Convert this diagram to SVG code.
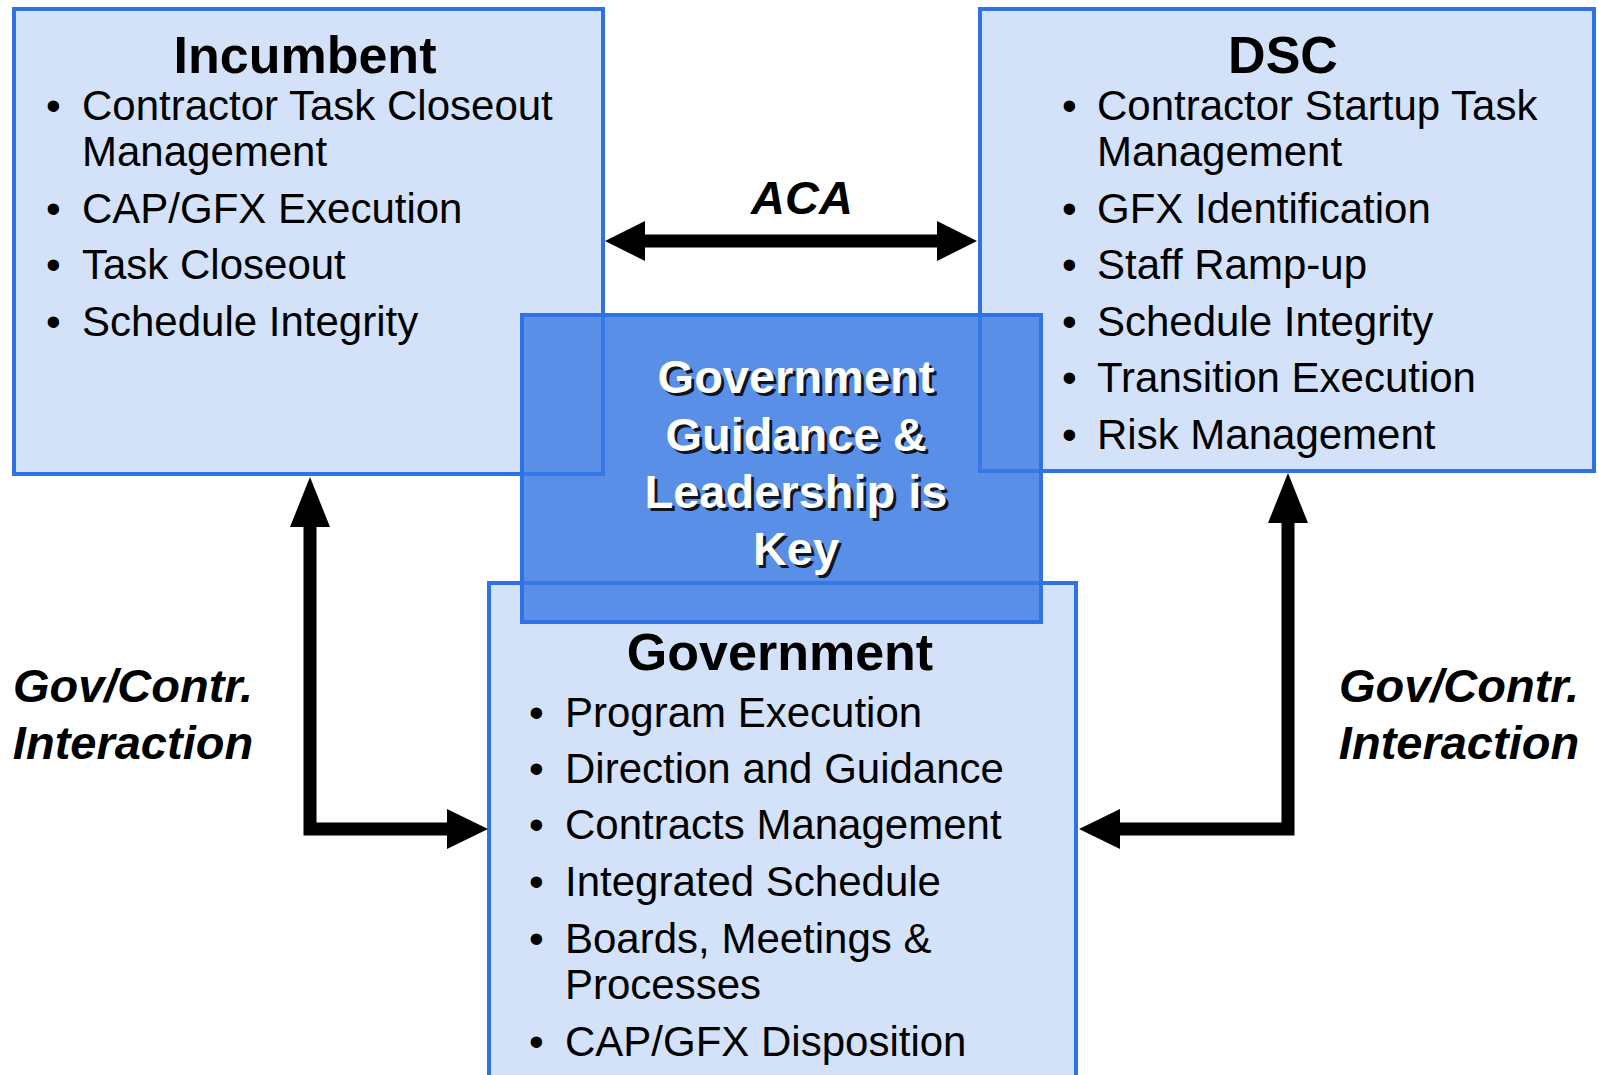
<svg xmlns="http://www.w3.org/2000/svg" width="1599" height="1075" viewBox="0 0 1599 1075">
<style>
.box{fill:#d3e2f8;stroke:#2e72e6;stroke-width:4}
.edge{fill:none;stroke:#2e72e6;stroke-width:4;stroke-opacity:0.8}
.key{fill:#5a8fe8;stroke:#2e72e6;stroke-width:4}
.title{font-family:"Liberation Sans",Arial,sans-serif;font-weight:bold;font-size:52px;fill:#000;text-anchor:middle}
.item{font-family:"Liberation Sans",Arial,sans-serif;font-size:42px;fill:#000}
.lbl{font-family:"Liberation Sans",Arial,sans-serif;font-weight:bold;font-style:italic;font-size:47px;fill:#000}
.keytxt{font-family:"Liberation Sans",Arial,sans-serif;font-weight:bold;font-size:47px;text-anchor:middle}
.arrow{fill:#000}
</style>
<rect width="1599" height="1075" fill="#fff"/>
<g id="incumbent">
<rect class="box" x="14" y="9" width="589" height="465"/>
<text class="title" x="305" y="73">Incumbent</text>
<g class="item">
<text x="46" y="120">•</text><text x="82" y="120">Contractor Task Closeout</text>
<text x="82" y="166">Management</text>
<text x="46" y="223">•</text><text x="82" y="223">CAP/GFX Execution</text>
<text x="46" y="279">•</text><text x="82" y="279">Task Closeout</text>
<text x="46" y="336">•</text><text x="82" y="336">Schedule Integrity</text>
</g>
</g>
<g id="dsc">
<rect class="box" x="980" y="9" width="614" height="462"/>
<text class="title" x="1283" y="73">DSC</text>
<g class="item">
<text x="1062" y="120">•</text><text x="1097" y="120">Contractor Startup Task</text>
<text x="1097" y="166">Management</text>
<text x="1062" y="223">•</text><text x="1097" y="223">GFX Identification</text>
<text x="1062" y="279">•</text><text x="1097" y="279">Staff Ramp-up</text>
<text x="1062" y="336">•</text><text x="1097" y="336">Schedule Integrity</text>
<text x="1062" y="392">•</text><text x="1097" y="392">Transition Execution</text>
<text x="1062" y="449">•</text><text x="1097" y="449">Risk Management</text>
</g>
</g>
<g id="government">
<rect class="box" x="489" y="583" width="587" height="520"/>
<text class="title" x="780" y="670">Government</text>
<g class="item">
<text x="529" y="727">•</text><text x="565" y="727">Program Execution</text>
<text x="529" y="783">•</text><text x="565" y="783">Direction and Guidance</text>
<text x="529" y="839">•</text><text x="565" y="839">Contracts Management</text>
<text x="529" y="896">•</text><text x="565" y="896">Integrated Schedule</text>
<text x="529" y="953">•</text><text x="565" y="953">Boards, Meetings &amp;</text>
<text x="565" y="999">Processes</text>
<text x="529" y="1056">•</text><text x="565" y="1056">CAP/GFX Disposition</text>
</g>
</g>
<g id="key">
<rect class="key" x="522" y="315" width="519" height="307"/>
<g id="key-underlying-edges">
<polyline class="edge" points="603,317 603,474 524,474"/>
<polyline class="edge" points="980,317 980,471 1039,471"/>
<line class="edge" x1="524" y1="583" x2="1039" y2="583"/>
</g>
<g class="keytxt" fill="#000" fill-opacity="0.85" transform="translate(3,3)">
<text x="796" y="393">Government</text>
<text x="796" y="451">Guidance &amp;</text>
<text x="796" y="508">Leadership is</text>
<text x="796" y="565">Key</text>
</g>
<g class="keytxt" fill="#fff">
<text x="796" y="393">Government</text>
<text x="796" y="451">Guidance &amp;</text>
<text x="796" y="508">Leadership is</text>
<text x="796" y="565">Key</text>
</g>
</g>
<g id="connectors">
<polygon class="arrow" points="605,241 645,221 645,234.5 937,234.5 937,221 977,241 937,261 937,247.5 645,247.5 645,261"/>
<polygon class="arrow" points="310,477 330,527 316.5,527 316.5,822.5 447,822.5 447,809 488,829 447,849 447,835.5 303.5,835.5 303.5,527 290,527"/>
<polygon class="arrow" points="1288,473 1308,523 1294.5,523 1294.5,835.5 1120,835.5 1120,849 1079,829 1120,809 1120,822.5 1281.5,822.5 1281.5,523 1268,523"/>
<text class="lbl" x="133" y="702" text-anchor="middle">Gov/Contr.</text>
<text class="lbl" x="133" y="759" text-anchor="middle">Interaction</text>
<text class="lbl" x="1459" y="702" text-anchor="middle">Gov/Contr.</text>
<text class="lbl" x="1459" y="759" text-anchor="middle">Interaction</text>
<text class="lbl" x="802" y="214" text-anchor="middle">ACA</text>
</g>
</svg>
